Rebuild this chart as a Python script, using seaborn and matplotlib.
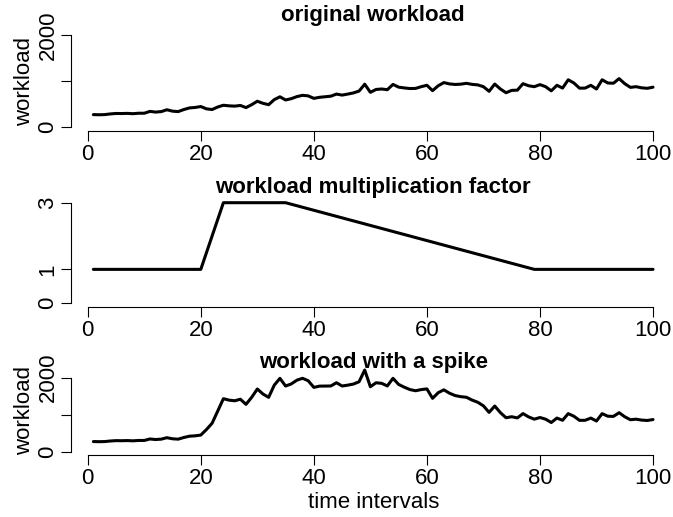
import numpy as np
import matplotlib
matplotlib.use('Agg')
import matplotlib.pyplot as plt
import seaborn as sns

# time intervals 1..100
time = np.arange(1, 101)

workload = [275, 272, 275, 290, 300, 298, 302, 295, 305, 305,
            345, 330, 340, 380, 350, 340, 385, 420, 430, 450,
            400, 385, 440, 478, 465, 459, 473, 427, 490, 565,
            520, 490, 600, 661, 592, 620, 665, 693, 681, 627,
            650, 662, 674, 720, 698, 720, 745, 785, 934, 758,
            820, 830, 815, 929, 870, 853, 840, 843, 880, 911,
            794, 900, 969, 940, 928, 935, 953, 930, 919, 880,
            780, 937, 830, 749, 800, 805, 945, 900, 880, 925,
            880, 790, 910, 850, 1030, 960, 848, 850, 910, 830,
            1030, 960, 955, 1055, 945, 865, 880, 855, 845, 870]

# corner points of the multiplication factor
factor_t = [1, 20, 24, 35, 79, 100]
factor_v = [1, 1, 3, 3, 1, 1]

spike = [275, 272, 275, 290, 300, 298, 302, 295, 305, 305,
         345, 330, 340, 380, 350, 340, 385, 420, 430, 450,
         600, 770, 1100, 1434, 1395, 1377, 1419, 1281, 1470, 1695,
         1560, 1470, 1800, 1983, 1776, 1832, 1934, 1985, 1919, 1739,
         1773, 1775, 1777, 1865, 1776, 1800, 1829, 1891, 2208, 1757,
         1864, 1848, 1778, 1984, 1819, 1744, 1680, 1648, 1680, 1698,
         1443, 1596, 1673, 1581, 1518, 1488, 1472, 1395, 1337, 1240,
         1064, 1235, 1057, 919, 946, 914, 1031, 941, 880, 925,
         880, 790, 910, 850, 1030, 960, 848, 850, 910, 830,
         1030, 960, 955, 1055, 945, 865, 880, 855, 845, 870]

sns.set_style('ticks')
plt.rcParams['font.family'] = ['Liberation Sans', 'DejaVu Sans']
plt.rcParams['text.color'] = 'black'
plt.rcParams['axes.labelcolor'] = 'black'
plt.rcParams['xtick.color'] = 'black'
plt.rcParams['ytick.color'] = 'black'

W, H = 673, 517
fig = plt.figure(figsize=(W / 100, H / 100), dpi=100)


def px_axes(top, bottom, left=71, right=675.4):
    return fig.add_axes([left / W, 1 - bottom / H, (right - left) / W, (bottom - top) / H])


def style(ax, ylim, yticks, ylabels):
    ax.set_xlim(-2.96, 103.96)
    ax.set_ylim(*ylim)
    ax.set_xticks([0, 20, 40, 60, 80, 100])
    ax.set_yticks(yticks)
    ax.set_yticklabels(ylabels, rotation=90, va='center')
    for s in ['top', 'right']:
        ax.spines[s].set_visible(False)
    ax.spines['left'].set_bounds(yticks[0], yticks[-1])
    ax.spines['bottom'].set_bounds(0, 100)
    for s in ['left', 'bottom']:
        ax.spines[s].set_linewidth(0.8)
        ax.spines[s].set_color('black')
    ax.tick_params(axis='both', length=7, width=0.8, labelsize=16,
                   color='black', labelcolor='black')
    ax.tick_params(axis='x', pad=2.5)
    ax.tick_params(axis='y', pad=2)
    ax.set_xlabel('')
    ax.set_ylabel('')


ax1 = px_axes(31.3, 131)
sns.lineplot(x=time, y=workload, ax=ax1, color='black', linewidth=2.2, estimator=None)
style(ax1, (-80, 2080), [0, 1000, 2000], ['0', '', '2000'])
ax1.set_ylabel('workload', fontsize=16, color='black')
ax1.yaxis.set_label_coords(-0.060, 0.5)
ax1.text(0.5, 1 + 10.6 / 99.7, 'original workload', transform=ax1.transAxes,
         ha='center', va='baseline', fontsize=16, fontweight='bold', color='black')

ax2 = px_axes(198.7, 306.7)
sns.lineplot(x=factor_t, y=factor_v, ax=ax2, color='black', linewidth=2.2, estimator=None)
style(ax2, (-0.12, 3.12), [0, 1, 3], ['0', '1', '3'])
ax2.text(0.5, 1 + 6 / 108, 'workload multiplication factor', transform=ax2.transAxes,
         ha='center', va='baseline', fontsize=16, fontweight='bold', color='black')

ax3 = px_axes(367, 454.7)
sns.lineplot(x=time, y=spike, ax=ax3, color='black', linewidth=2.2, estimator=None)
style(ax3, (-80, 2290), [0, 1000, 2000], ['0', '', '2000'])
ax3.set_ylabel('workload', fontsize=16, color='black')
ax3.yaxis.set_label_coords(-0.060, 0.5)
ax3.set_xlabel('time intervals', fontsize=16, color='black')
ax3.xaxis.label.set_va('baseline')
ax3.xaxis.set_label_coords(0.5, -(508.3 - 454.7) / 87.7)
ax3.text(0.5, 1 - 1.3 / 87.7, 'workload with a spike', transform=ax3.transAxes,
         ha='center', va='baseline', fontsize=16, fontweight='bold', color='black')

fig.savefig('out.png', dpi=100)
